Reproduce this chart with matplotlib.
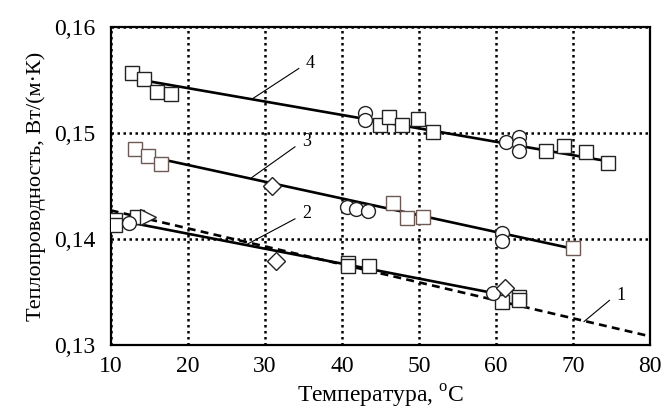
"""Thermal conductivity vs temperature, four fitted lines with measured points."""

import matplotlib

matplotlib.use("Agg")
import matplotlib.pyplot as plt

# dashed reference line 1
line1_x = [10, 80]
line1_y = [0.1427, 0.1308]

# fitted lines 2-4
line2_x = [12.9, 59.6]
line2_y = [0.1415, 0.1349]
line3_x = [17.4, 69.2]
line3_y = [0.1474, 0.1392]
line4_x = [12.5, 74.0]
line4_y = [0.1552, 0.1474]

# measured points, series 4
sq4_x = [12.7, 14.3, 16.0, 17.8, 44.9, 46.1, 47.8, 49.9, 51.8, 66.5, 68.8, 71.6, 74.5]
sq4_y = [0.1557, 0.1551, 0.1539, 0.1537, 0.1508, 0.1515, 0.1508, 0.1513, 0.1501,
         0.1483, 0.1488, 0.1482, 0.1472]
ci4_x = [43.0, 43.0, 61.3, 63.0, 63.0, 63.0]
ci4_y = [0.1519, 0.1512, 0.1492, 0.1496, 0.1490, 0.1483]

# series 3
sq3_x = [13.2, 14.8, 16.5, 46.6, 48.4, 50.5, 70.0]
sq3_y = [0.1485, 0.1478, 0.1471, 0.1434, 0.1420, 0.1421, 0.1391]
ci3_x = [40.6, 41.8, 43.4, 60.8, 60.8]
ci3_y = [0.1430, 0.1428, 0.1426, 0.1406, 0.1398]
di3_x = [30.9]
di3_y = [0.1450]

# series 2
sq2_x = [10.6, 10.6, 13.4, 40.8, 40.8, 43.5, 60.8, 63.0, 63.0]
sq2_y = [0.1418, 0.1413, 0.1421, 0.1377, 0.1374, 0.1374, 0.1340, 0.1345, 0.1342]
ci2_x = [12.4, 59.6]
ci2_y = [0.1415, 0.1349]
di2_x = [31.5, 61.2]
di2_y = [0.1379, 0.1354]
tr2_x = [14.8]
tr2_y = [0.1421]

# curve labels: (text, label x, label y, leader end x, leader end y)
labels = [
    ("1", 75.6, 0.1347, 71.4, 0.1322),
    ("2", 34.8, 0.1424, 27.7, 0.1395),
    ("3", 34.8, 0.1492, 28.3, 0.1458),
    ("4", 35.3, 0.1566, 28.3, 0.1532),
]

x_ticks = [10, 20, 30, 40, 50, 60, 70, 80]
y_ticks = [0.13, 0.14, 0.15, 0.16]
y_tick_labels = ["0,13", "0,14", "0,15", "0,16"]

plt.rcParams["font.family"] = ["Liberation Serif", "DejaVu Serif"]
plt.rcParams["mathtext.fontset"] = "custom"
plt.rcParams["mathtext.rm"] = "Liberation Serif"

fig = plt.figure(figsize=(6.67, 4.12), dpi=100)
ax = fig.add_axes([0.166, 0.163, 0.809, 0.771])

ax.plot(line1_x, line1_y, color="black", lw=1.9, ls=(0, (3, 2)), zorder=2)
for xs, ys in [(line2_x, line2_y), (line3_x, line3_y), (line4_x, line4_y)]:
    ax.plot(xs, ys, color="black", lw=1.9, zorder=2)

mk = dict(ls="none", mfc="white", mew=1.0, zorder=3)
ax.plot(sq4_x, sq4_y, marker="s", ms=10, mec="#222222", **mk)
ax.plot(ci4_x, ci4_y, marker="o", ms=10, mec="#222222", **mk)
ax.plot(sq3_x, sq3_y, marker="s", ms=10, mec="#6e5a55", **mk)
ax.plot(ci3_x, ci3_y, marker="o", ms=10, mec="#222222", **mk)
ax.plot(di3_x, di3_y, marker="D", ms=9, mec="#222222", **mk)
ax.plot(sq2_x, sq2_y, marker="s", ms=10, mec="#222222", **mk)
ax.plot(ci2_x, ci2_y, marker="o", ms=10, mec="#222222", **mk)
ax.plot(di2_x, di2_y, marker="D", ms=9, mec="#222222", **mk)
ax.plot(tr2_x, tr2_y, marker=">", ms=11, mec="#222222", **mk)

for text, tx, ty, ex, ey in labels:
    ax.plot([tx - 0.9, ex], [ty - 0.0005, ey], color="black", lw=0.8, zorder=4)
    ax.text(tx, ty, text, fontsize=13, ha="left", va="center", zorder=4)

ax.set_xlim(10, 80)
ax.set_ylim(0.13, 0.16)
ax.set_xticks(x_ticks)
ax.set_yticks(y_ticks)
ax.set_yticklabels(y_tick_labels)
ax.tick_params(length=0, labelsize=17)
ax.tick_params(axis="y", pad=11)
ax.tick_params(axis="x", pad=8)
ax.grid(True, color="black", ls=(0, (1.0, 1.4)), lw=1.8)
for sp in ax.spines.values():
    sp.set_linestyle((0, (1.0, 1.0)))
    sp.set_linewidth(1.6)

ax.set_xlabel("Температура, $^{\\mathrm{o}}$C", fontsize=17, labelpad=4)
ax.set_ylabel("Теплопроводность, Вт/(м·К)", fontsize=16, labelpad=6)

fig.savefig("out.png", dpi=100)
